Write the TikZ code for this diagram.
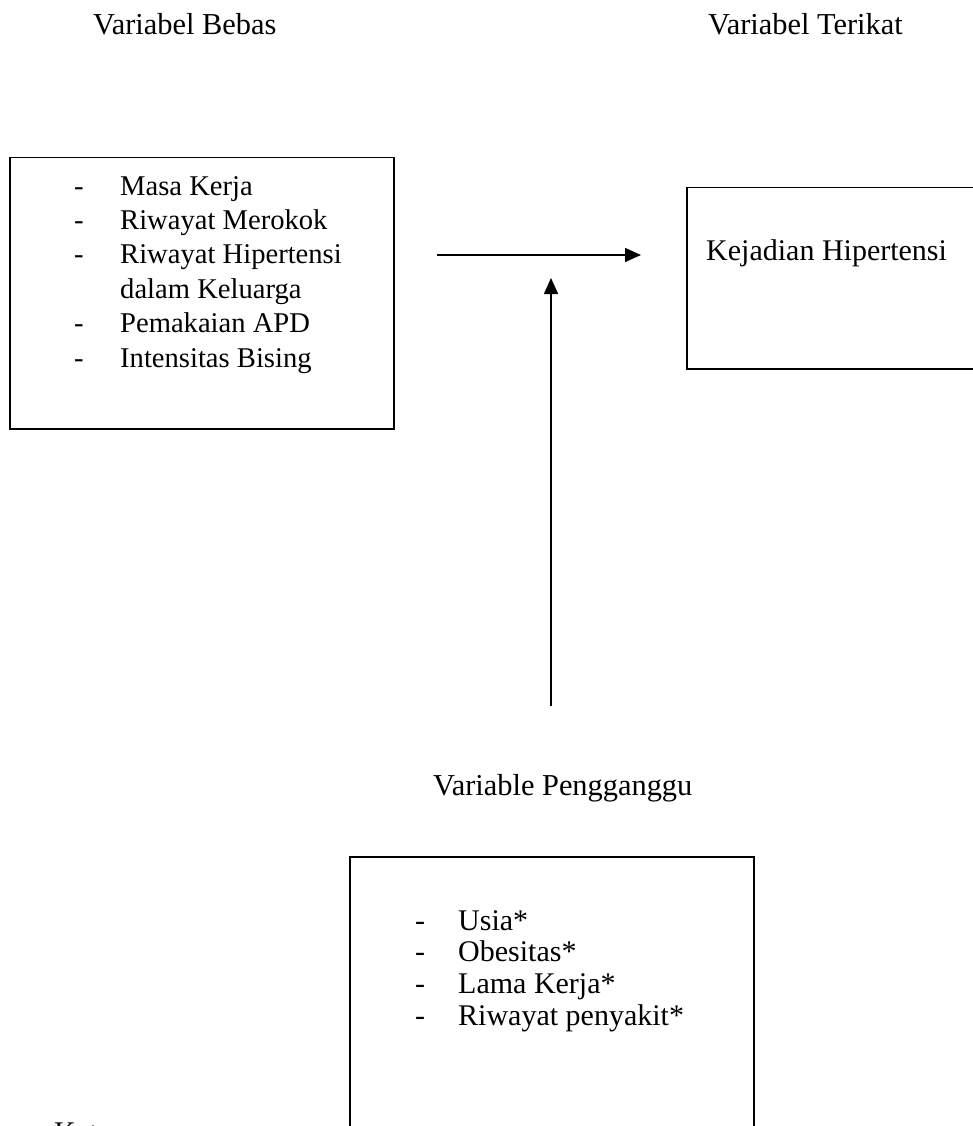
\documentclass[tikz,border=0pt]{standalone}
\usepackage{fontspec}
\setmainfont{Liberation Serif}
\usetikzlibrary{arrows.meta}
\begin{document}
\begin{tikzpicture}[x=1pt,y=-1pt,
  box/.style={draw, line width=1.5pt, rectangle, inner sep=0pt, anchor=north west},
  txt/.style={inner sep=0pt, anchor=base west, font=\fontsize{28.6pt}{34.4pt}\selectfont},
  head/.style={inner sep=0pt, anchor=base west, font=\fontsize{30.4pt}{36pt}\selectfont},
  txtb/.style={inner sep=0pt, anchor=base west, font=\fontsize{30pt}{31.7pt}\selectfont},
  conn/.style={line width=1.5pt, -{Triangle[length=16pt,width=14pt]}}]
\clip (0,0) rectangle (973,1126);
\fill[white] (0,0) rectangle (973,1126);
% headers
\node[head] (hbebas) at (93,35) {Variabel Bebas};
\node[head] (hterikat) at (708,35) {Variabel Terikat};
\node[head] (hganggu) at (433,795) {Variable Pengganggu};
% boxes
\node[box, minimum width=384pt, minimum height=271pt] (bebas) at (9,157) {};
\node[box, minimum width=320pt, minimum height=181pt] (terikat) at (686,187) {};
\node[box, minimum width=404pt, minimum height=300pt] (ganggu) at (349,856) {};
% box texts
\node[txt] (lbebas) at (74,195) {\begin{tabular}[t]{@{}p{46pt}@{}l@{}}
- & Masa Kerja\\
- & Riwayat Merokok\\
- & Riwayat Hipertensi\\
  & dalam Keluarga\\
- & Pemakaian APD\\
- & Intensitas Bising
\end{tabular}};
\node[txtb] (lterikat) at (706,260) {Kejadian Hipertensi};
\node[txtb] (lganggu) at (415,930) {\begin{tabular}[t]{@{}p{43pt}@{}l@{}}
- & Usia*\\
- & Obesitas*\\
- & Lama Kerja*\\
- & Riwayat penyakit*
\end{tabular}};
\node[txtb] (ket) at (54,1142) {Keterangan :};
% connectors
\coordinate (h1) at (437,255);
\coordinate (h2) at (641,255);
\coordinate (v1) at (551,706);
\coordinate (v2) at (551,278);
\draw[conn] (h1) -- (h2);
\draw[conn] (v1) -- (v2);
\end{tikzpicture}
\end{document}
